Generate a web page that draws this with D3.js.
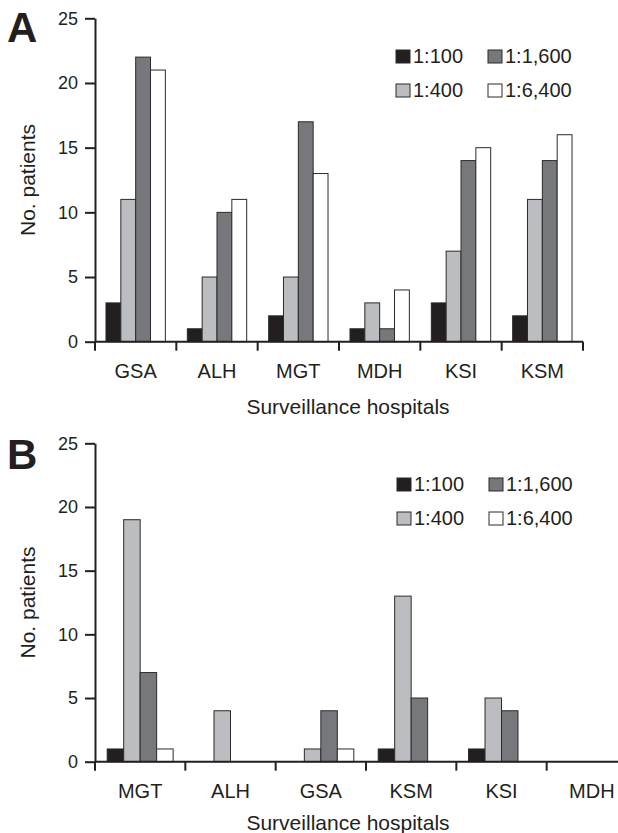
<!DOCTYPE html>
<html lang='en'>

<head>
    <meta charset='utf-8'>
    <title>Surveillance hospitals</title>
    <style>
        body {
            margin: 0;
            background-color: #fff;
        }

        svg {
            display: block;
            font-family: 'Liberation Sans', Arial, sans-serif;
        }
    </style>
    <script src='https://d3js.org/d3.v7.min.js' charset='utf-8'></script>
</head>

<body>
    <div id='chart'></div>
    <script type="text/javascript">
        const WIDTH = 618;
        const HEIGHT = 833;

        // titers (legend order)
        const series = ['1:100', '1:400', '1:1,600', '1:6,400'];
        const colors = ['#231f20', '#bcbdc0', '#77787b', '#ffffff'];
        const yTicks = [0, 5, 10, 15, 20, 25];

        // panel A
        const hospitalsA = ['GSA', 'ALH', 'MGT', 'MDH', 'KSI', 'KSM'];
        const a100 = [3, 1, 2, 1, 3, 2];
        const a400 = [11, 5, 5, 3, 7, 11];
        const a1600 = [22, 10, 17, 1, 14, 14];
        const a6400 = [21, 11, 13, 4, 15, 16];

        // panel B
        const hospitalsB = ['MGT', 'ALH', 'GSA', 'KSM', 'KSI', 'MDH'];
        const b100 = [1, 0, 0, 1, 1, 0];
        const b400 = [19, 4, 1, 13, 5, 0];
        const b1600 = [7, 0, 4, 5, 4, 0];
        const b6400 = [1, 0, 1, 0, 0, 0];

        var svg = d3.select('#chart')
            .append('svg')
            .attr('width', WIDTH)
            .attr('height', HEIGHT);

        svg.append('rect')
            .attr('width', WIDTH)
            .attr('height', HEIGHT)
            .attr('fill', '#fff');

        function drawPanel(p) {
            var g = svg.append('g');

            var x0 = d3.scaleBand()
                .domain(p.hospitals)
                .range([95, p.xEnd])
                .padding(0);
            var x1 = d3.scaleBand()
                .domain(series)
                .range([0, x0.bandwidth()])
                .paddingInner(0)
                .paddingOuter(0.74);
            var y = d3.scaleLinear()
                .domain([0, 25])
                .range([p.yBottom, p.yTop]);

            var rows = [];
            p.hospitals.forEach(function (h, i) {
                p.values.forEach(function (vals, s) {
                    if (vals[i] > 0) {
                        rows.push({ hospital: h, series: series[s], color: colors[s], value: vals[i] });
                    }
                });
            });

            g.selectAll('rect.bar')
                .data(rows)
                .enter()
                .append('rect')
                .attr('class', 'bar')
                .attr('x', function (d) { return x0(d.hospital) + x1(d.series); })
                .attr('y', function (d) { return y(d.value); })
                .attr('width', x1.bandwidth())
                .attr('height', function (d) { return y(0) - y(d.value); })
                .attr('fill', function (d) { return d.color; })
                .attr('stroke', '#2b2b2b')
                .attr('stroke-width', 1);

            // y axis
            var yAxis = g.append('g')
                .attr('transform', 'translate(95,0)')
                .call(d3.axisLeft(y).tickValues(yTicks).tickSize(10).tickPadding(7).tickSizeOuter(0));
            yAxis.select('.domain').attr('stroke', '#231f20').attr('stroke-width', 2);
            yAxis.selectAll('.tick line').attr('stroke', '#231f20').attr('stroke-width', 2);
            yAxis.selectAll('.tick text')
                .attr('font-size', '18px')
                .attr('fill', '#231f20')
                .attr('font-family', "'Liberation Sans', Arial, sans-serif");

            // x axis line + boundary ticks
            g.append('line')
                .attr('x1', 95)
                .attr('x2', p.xEnd)
                .attr('y1', y(0))
                .attr('y2', y(0))
                .attr('stroke', '#231f20')
                .attr('stroke-width', 2);
            var edges = p.hospitals.map(function (h) { return x0(h); }).concat([x0.range()[1]]);
            g.selectAll('line.xtick')
                .data(edges)
                .enter()
                .append('line')
                .attr('class', 'xtick')
                .attr('x1', function (d) { return d; })
                .attr('x2', function (d) { return d; })
                .attr('y1', y(0))
                .attr('y2', y(0) + 9)
                .attr('stroke', '#231f20')
                .attr('stroke-width', 2);

            g.selectAll('text.xlabel')
                .data(p.hospitals)
                .enter()
                .append('text')
                .attr('class', 'xlabel')
                .attr('x', function (d) { return x0(d) + x0.bandwidth() / 2; })
                .attr('y', y(0) + 36)
                .attr('text-anchor', 'middle')
                .attr('font-size', '20px')
                .attr('fill', '#231f20')
                .text(function (d) { return d; });

            // axis titles
            g.append('text')
                .attr('x', 348)
                .attr('y', p.titleY)
                .attr('text-anchor', 'middle')
                .attr('font-size', '21px')
                .attr('fill', '#231f20')
                .text('Surveillance hospitals');

            g.append('text')
                .attr('transform', 'translate(35,' + (p.yTop + p.yBottom) / 2 + ') rotate(-90)')
                .attr('text-anchor', 'middle')
                .attr('font-size', '21px')
                .attr('fill', '#231f20')
                .text('No. patients');

            // panel letter
            g.append('text')
                .attr('x', 7)
                .attr('y', p.letterY)
                .attr('font-size', '42px')
                .attr('font-weight', 'bold')
                .attr('fill', '#231f20')
                .text(p.letter);

            // legend, 2 x 2
            var legend = g.selectAll('g.legend')
                .data(series)
                .enter()
                .append('g')
                .attr('class', 'legend')
                .attr('transform', function (d, i) {
                    var col = Math.floor(i / 2);
                    var row = i % 2;
                    return 'translate(' + (p.legendX + col * 92) + ',' + (p.legendY + row * 34) + ')';
                });
            legend.append('rect')
                .attr('width', 14)
                .attr('height', 13)
                .attr('fill', function (d, i) { return colors[i]; })
                .attr('stroke', '#2b2b2b')
                .attr('stroke-width', 1);
            legend.append('text')
                .attr('x', 17)
                .attr('y', 13)
                .attr('font-size', '20px')
                .attr('fill', '#231f20')
                .text(function (d) { return d; });
        }

        drawPanel({
            letter: 'A',
            hospitals: hospitalsA,
            values: [a100, a400, a1600, a6400],
            xEnd: 583,
            yTop: 18.3,
            yBottom: 341.7,
            titleY: 414,
            letterY: 42,
            legendX: 396,
            legendY: 50
        });

        drawPanel({
            letter: 'B',
            hospitals: hospitalsB,
            values: [b100, b400, b1600, b6400],
            xEnd: 637,
            yTop: 443.3,
            yBottom: 761.7,
            titleY: 830,
            letterY: 469,
            legendX: 397,
            legendY: 478
        });
    </script>
</body>

</html>
